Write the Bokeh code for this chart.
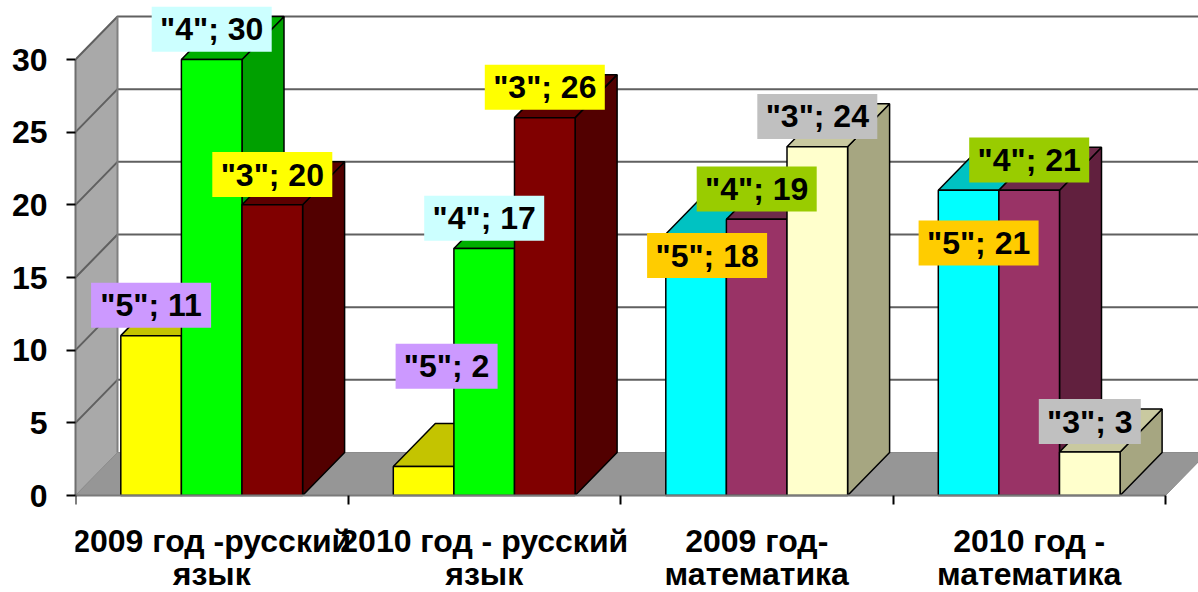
from bokeh.plotting import figure
from bokeh.embed import file_html
from bokeh.resources import INLINE
from bokeh.models import FixedTicker, Range1d, AllLabels
from bokeh.core.properties import value

categories = ["2009 год -русский\nязык", "2010 год - русский\nязык",
              "2009 год-\nматематика", "2010 год -\nматематика"]
series = ['"5"', '"4"', '"3"']
vals_5 = [11, 2, 18, 21]
vals_4 = [30, 17, 19, 21]
vals_3 = [20, 26, 24, 3]
y_ticks = [0, 5, 10, 15, 20, 25, 30]

# face colours: (front, top, side)
c_yellow = ("#FFFF00", "#C4C400", "#8A8A00")
c_green = ("#00FF00", "#00AE00", "#00A000")
c_maroon = ("#800000", "#5C0000", "#520000")
c_cyan = ("#00FFFF", "#00C2C2", "#00A0A0")
c_purple = ("#993366", "#6E2A4A", "#61203E")
c_cream = ("#FFFFCC", "#C9C9A0", "#A6A681")
group_colors = [[c_yellow, c_green, c_maroon], [c_yellow, c_green, c_maroon],
                [c_cyan, c_purple, c_cream], [c_cyan, c_purple, c_cream]]
label_colors = [["#CC99FF", "#CCFFFF", "#FFFF00"], ["#CC99FF", "#CCFFFF", "#FFFF00"],
                ["#FFCC00", "#99CC00", "#C0C0C0"], ["#FFCC00", "#99CC00", "#C0C0C0"]]
# nudges (px, right and up) of labels moved away from their default place above the bar
label_nudge = {(1, 0): (23, 70), (2, 0): (11, -52), (3, 0): (10, -83)}

# pixel scales
PX_X = 272.5
PX_Y = 14.533
W, H = 1198, 592
FL, FB = 75, 495     # left edge of the plot and the zero line on the page
FONT_PX = "32px"
x_end = (W - FL) / PX_X
y_start = -(H - FB) / PX_Y
y_end = FB / PX_Y
DX = 42 / PX_X
DY = 43 / PX_Y
BW = 60.6 / PX_X
B0 = 45.3 / PX_X

p = figure(width=W, height=H, output_backend="svg", toolbar_location=None,
           x_range=Range1d(0, x_end), y_range=Range1d(y_start, y_end),
           min_border_left=FL, min_border_right=0, min_border_top=0,
           min_border_bottom=0, outline_line_color=None,
           background_fill_color="white", border_fill_color="white")
p.grid.visible = False

# walls and floor
p.patch([0, DX, DX, 0], [0, DY, 30 + DY, 30], fill_color="#A9A9A9", line_color="#8c8c8c", line_width=1)
p.patch([0, DX, 4 + DX, 4], [0, DY, DY, 0], fill_color="#969696", line_color="#8c8c8c", line_width=1)

# gridlines: across the side wall and the back wall
for v in y_ticks:
    if v == 0:
        continue
    p.line([0, DX, x_end], [v, v + DY, v + DY], line_color="#606060", line_width=2)
p.line([DX, DX], [DY, 30 + DY], line_color="#808080", line_width=2)

# bars
all_vals = [vals_5, vals_4, vals_3]
for g in range(len(categories)):
    for s in range(len(series)):
        v = all_vals[s][g]
        x0 = g + B0 + s * BW
        x1 = x0 + BW
        front, top, side = group_colors[g][s]
        p.patch([x1, x1 + DX, x1 + DX, x1], [0, DY, v + DY, v], fill_color=side, line_color="black", line_width=1.5)
        p.patch([x0, x0 + DX, x1 + DX, x1], [v, v + DY, v + DY, v], fill_color=top, line_color="black", line_width=1.5)
        p.quad(left=x0, right=x1, bottom=0, top=v, fill_color=front, line_color="black", line_width=1.5)

# data labels
for g in range(len(categories)):
    for s in range(len(series)):
        v = all_vals[s][g]
        cx = g + B0 + (s + 0.5) * BW
        cy = v + 30.3 / PX_Y
        ndx, ndy = label_nudge.get((g, s), (0, 0))
        cx += ndx / PX_X
        cy += ndy / PX_Y
        w = 120 if v >= 10 else 102
        hw = w / 2 / PX_X
        hh = 22.5 / PX_Y
        p.quad(left=cx - hw, right=cx + hw, bottom=cy - hh, top=cy + hh,
               fill_color=label_colors[g][s], line_color=None)
        p.text(x=[cx], y=[cy], text=[f"{series[s]}; {v}"], text_align="center",
               text_baseline="middle", text_font=value("Liberation Sans"),
               text_font_style="bold", text_font_size=FONT_PX, text_color="black")

# axes
ya = p.yaxis[0]
ya.ticker = FixedTicker(ticks=y_ticks)
ya.bounds = (0, 30)
ya.axis_line_color = "#6e6e6e"
ya.axis_line_width = 2
ya.major_tick_in = 0
ya.major_tick_out = 9
ya.major_tick_line_color = "black"
ya.major_tick_line_width = 2
ya.minor_tick_line_color = None
ya.major_label_standoff = 19
ya.major_label_text_font = "Liberation Sans"
ya.major_label_text_font_style = "bold"
ya.major_label_text_font_size = FONT_PX
ya.major_label_text_color = "black"

xa = p.xaxis[0]
centers = [i + 0.5 for i in range(len(categories))]
xa.fixed_location = 0
xa.bounds = (0, 4)
xa.ticker = FixedTicker(ticks=centers, minor_ticks=list(range(len(categories) + 1)))
xa.major_label_overrides = {c: t for c, t in zip(centers, categories)}
xa.major_label_policy = AllLabels()
xa.axis_line_color = "#7a7a7a"
xa.axis_line_width = 2
xa.major_tick_in = 0
xa.major_tick_out = 0
xa.major_tick_line_color = None
xa.minor_tick_in = 0
xa.minor_tick_out = 9
xa.minor_tick_line_color = "black"
xa.minor_tick_line_width = 2
xa.major_label_standoff = 18
xa.major_label_text_font = "Liberation Sans"
xa.major_label_text_font_style = "bold"
xa.major_label_text_font_size = FONT_PX
xa.major_label_text_color = "black"
xa.major_label_text_align = "center"
xa.major_label_text_line_height = 0.92

open("out.html", "w").write(file_html(p, INLINE))
